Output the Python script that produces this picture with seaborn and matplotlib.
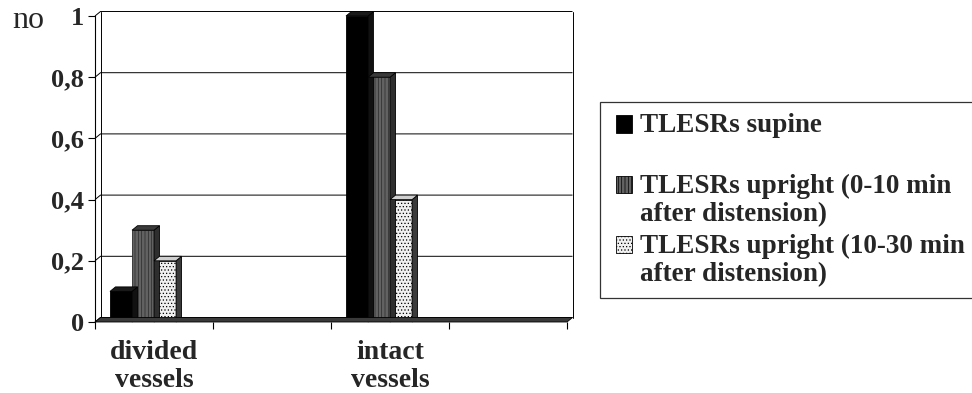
import matplotlib
matplotlib.use("Agg")
import matplotlib.pyplot as plt
import seaborn as sns
import pandas as pd
from matplotlib.patches import Polygon, Patch, Rectangle
from matplotlib.legend_handler import HandlerPatch

# categories along the x axis (two empty slots as in the original layout)
categories = ["divided\nvessels", "gap1", "intact\nvessels", "gap2"]
tick_labels = ["divided\nvessels", "", "intact\nvessels", ""]
series = [
    "TLESRs supine",
    "TLESRs upright (0-10 min\nafter distension)",
    "TLESRs upright (10-30 min\nafter distension)",
]
legend_labels = [
    "TLESRs supine\n ",
    "TLESRs upright (0-10 min\nafter distension)",
    "TLESRs upright (10-30 min\nafter distension)",
]
supine = [0.1, 0.0, 1.0, 0.0]
upright_0_10 = [0.3, 0.0, 0.8, 0.0]
upright_10_30 = [0.2, 0.0, 0.4, 0.0]
y_ticks = [0, 0.2, 0.4, 0.6, 0.8, 1.0]
y_tick_labels = ["0", "0,2", "0,4", "0,6", "0,8", "1"]

face_colors = ["#000000", "#626262", "#f0f0f0"]
side_colors = ["#111111", "#2e2e2e", "#3a3a3a"]
top_colors = ["#1a1a1a", "#3a3a3a", "#d0d0d0"]
hatches = [None, "|||||", "....."]

sns.set_theme(style="white")
plt.rcParams["font.family"] = ["Liberation Serif", "DejaVu Serif"]
plt.rcParams["hatch.linewidth"] = 0.5

df = pd.DataFrame({
    "category": categories * 3,
    "series": sum([[s] * 4 for s in series], []),
    "value": supine + upright_0_10 + upright_10_30,
})

W, H = 972, 393
ax_left, ax_right, ax_top, ax_bottom = 95, 567, 16, 322
fig = plt.figure(figsize=(W / 100, H / 100), dpi=100)
ax = fig.add_axes([ax_left / W, 1 - ax_bottom / H,
                   (ax_right - ax_left) / W, (ax_bottom - ax_top) / H])

sns.barplot(data=df, x="category", y="value", hue="series", order=categories,
            hue_order=series, palette=face_colors, width=0.56, ax=ax,
            legend=False, edgecolor="black", linewidth=0.6, saturation=1)

xmin, xmax = -0.5, 3.5
ax.set_xlim(xmin, xmax)
ax.set_ylim(0, 1.0)

# depth offsets for the pseudo-3D look, in data units
dx = 5.5 * (xmax - xmin) / (ax_right - ax_left)
dy = 4.5 / (ax_bottom - ax_top)
shift = -0.093  # bars sit slightly left of the slot centre, as in the 3D projection

# back wall: gridlines with the short diagonal back to the front axis
for v in y_ticks:
    ax.plot([xmin, xmin + dx, xmax + dx], [v, v + dy, v + dy], color="black",
            linewidth=0.7, zorder=0.5, clip_on=False, solid_capstyle="butt")
ax.plot([xmin + dx, xmin + dx], [dy, 1 + dy], color="black", linewidth=0.7,
        zorder=0.5, clip_on=False)
ax.plot([xmax + dx, xmax + dx], [dy, 1 + dy], color="black", linewidth=0.7,
        zorder=0.5, clip_on=False)

for k, cont in enumerate(ax.containers):
    for p in cont:
        p.set_x(p.get_x() + shift)
        p.set_hatch(hatches[k])
        if k == 1:
            p.set_edgecolor("#2a2a2a")
        x0 = p.get_x()
        w = p.get_width()
        h = p.get_height()
        if h <= 0:
            continue
        x1 = x0 + w
        side = Polygon([(x1, 0), (x1 + dx, dy), (x1 + dx, h + dy), (x1, h)],
                       closed=True, facecolor=side_colors[k], edgecolor="black",
                       linewidth=0.6, zorder=p.get_zorder(), clip_on=False)
        top = Polygon([(x0, h), (x0 + dx, h + dy), (x1 + dx, h + dy), (x1, h)],
                      closed=True, facecolor=top_colors[k],
                      edgecolor="black", linewidth=0.6, zorder=p.get_zorder(),
                      clip_on=False)
        ax.add_patch(side)
        ax.add_patch(top)

# dark floor strip along the baseline
floor = Polygon([(xmin, 0), (xmax, 0), (xmax + dx, dy), (xmin + dx, dy)], closed=True,
                facecolor="#3a3a3a", edgecolor="black", linewidth=0.6, zorder=1,
                clip_on=False)
ax.add_patch(floor)

ax.set_yticks(y_ticks)
ax.set_yticklabels(y_tick_labels, fontsize=19, fontweight="bold")
ax.yaxis.grid(False)
ax.tick_params(axis="y", length=5, width=0.8, color="black", left=True, pad=3)

ax.set_xticks(range(4))
ax.set_xticklabels(tick_labels, fontsize=20, fontweight="bold", linespacing=1.13)
ax.set_xticks([-0.5, 0.5, 1.5, 2.5, 3.5], minor=True)
ax.tick_params(axis="x", which="major", length=0, pad=13)
ax.tick_params(axis="x", which="minor", length=5, width=0.8, color="black", bottom=True)
ax.set_xlabel("")
ax.set_ylabel("")

for s in ["right", "top", "bottom"]:
    ax.spines[s].set_visible(False)
ax.spines["left"].set_visible(True)
ax.spines["left"].set_color("black")
ax.spines["left"].set_linewidth(0.8)

fig.text(12 / W, 1 - 21 / H, "no", fontsize=23, va="center", ha="left")


def _first_line_square(legend, orig_handle, xdescent, ydescent, width, height, fontsize):
    # put the swatch next to the first line of a two-line label
    return Rectangle((-xdescent + 3, -ydescent + 0.58 * fontsize), width, height)


handles = [Patch(facecolor=face_colors[i], edgecolor="black", hatch=hatches[i],
                 linewidth=0.6, label=legend_labels[i]) for i in range(3)]
leg = fig.legend(handles=handles, loc="upper left",
                 bbox_to_anchor=(600 / W, 0.0, 400 / W, 1 - 102 / H),
                 mode="expand", frameon=True, fancybox=False, edgecolor="black",
                 prop={"family": "Liberation Serif", "weight": "bold", "size": 19.5},
                 handlelength=0.62, handleheight=0.62, handletextpad=0.45,
                 labelspacing=0.25, borderpad=0.42, borderaxespad=0,
                 handler_map={Patch: HandlerPatch(patch_func=_first_line_square)})
leg.get_frame().set_linewidth(0.9)
for t in leg.get_texts():
    t.set_linespacing(1.17)

fig.savefig("out.png", dpi=100)
